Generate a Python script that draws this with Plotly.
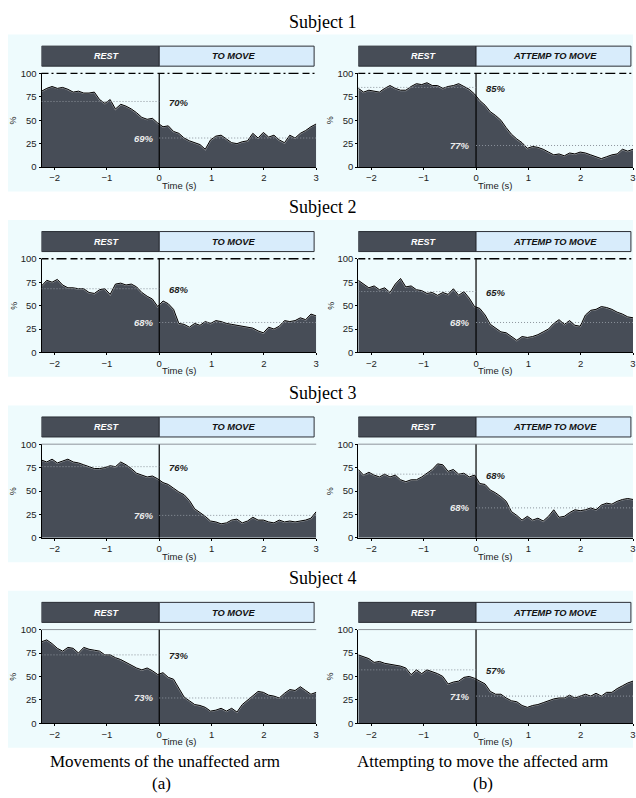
import numpy as np
import plotly.graph_objects as go

W, H = 636, 798

# ---------------------------------------------------------------------------
# Data: percentage over time (s), one series per subject and condition
# ---------------------------------------------------------------------------
time_s = np.linspace(-2.25, 3.0, 53)

s1_unaffected = [81, 84, 86, 84, 85, 83, 80, 81, 79, 79, 80, 72, 68, 72, 62, 67, 65, 62,
                 58, 53, 51, 52, 47, 43, 44, 38, 36, 31, 28, 26, 24, 19, 29, 33, 34, 30,
                 26, 25, 27, 28, 36, 31, 37, 32, 34, 29, 26, 34, 31, 36, 39, 43, 46]
s1_affected = [84, 80, 82, 81, 80, 84, 87, 84, 82, 82, 86, 89, 88, 90, 87, 87, 84, 86,
               87, 89, 86, 83, 78, 71, 66, 59, 55, 50, 42, 35, 30, 26, 20, 22, 21, 19,
               16, 13, 14, 12, 15, 14, 16, 15, 13, 11, 9, 11, 13, 14, 19, 17, 19]
s2_unaffected = [71, 77, 75, 78, 72, 69, 69, 68, 68, 64, 63, 67, 68, 62, 73, 74, 72, 73,
                 70, 64, 60, 57, 49, 55, 52, 46, 31, 30, 27, 31, 29, 33, 31, 34, 33, 31,
                 30, 29, 28, 27, 26, 23, 21, 27, 25, 28, 34, 33, 34, 37, 35, 41, 39]
s2_affected = [77, 73, 69, 71, 67, 69, 64, 73, 79, 70, 71, 67, 66, 63, 64, 61, 64, 62,
               68, 61, 65, 58, 49, 47, 40, 30, 26, 22, 21, 17, 13, 17, 16, 17, 19, 22,
               25, 31, 35, 30, 34, 29, 28, 40, 45, 46, 49, 48, 46, 43, 41, 38, 37]
s3_unaffected = [83, 81, 84, 80, 82, 84, 81, 80, 78, 76, 74, 74, 75, 77, 76, 81, 78, 74,
                 69, 67, 65, 66, 63, 59, 57, 53, 49, 46, 40, 31, 27, 23, 18, 17, 15, 16,
                 19, 20, 16, 18, 22, 19, 19, 17, 16, 19, 17, 18, 17, 18, 19, 21, 28]
s3_affected = [73, 67, 70, 67, 65, 68, 65, 67, 62, 60, 62, 62, 65, 69, 73, 79, 78, 71,
               73, 68, 69, 65, 67, 58, 57, 51, 48, 44, 39, 28, 24, 19, 23, 19, 21, 18,
               23, 30, 22, 23, 27, 30, 29, 30, 32, 30, 35, 37, 36, 39, 41, 42, 41]
s4_unaffected = [87, 89, 85, 80, 77, 81, 80, 75, 81, 79, 78, 77, 73, 73, 70, 68, 65, 62,
                 59, 57, 59, 56, 52, 54, 49, 47, 38, 28, 24, 20, 19, 17, 13, 14, 16, 13,
                 16, 12, 20, 25, 30, 34, 33, 30, 29, 27, 32, 36, 35, 39, 35, 31, 33]
s4_affected = [73, 71, 69, 65, 66, 64, 63, 62, 61, 59, 52, 57, 53, 57, 55, 53, 50, 42,
               44, 45, 49, 50, 48, 45, 42, 34, 31, 31, 27, 24, 23, 19, 17, 19, 20, 22,
               24, 26, 27, 27, 30, 27, 29, 31, 29, 32, 29, 33, 33, 37, 40, 43, 45]

series_a = [s1_unaffected, s2_unaffected, s3_unaffected, s4_unaffected]
series_b = [s1_affected, s2_affected, s3_affected, s4_affected]

# accuracy (%) during rest and during the movement window
rest_pct_a = [70, 68, 76, 73]
move_pct_a = [69, 68, 76, 73]
rest_pct_b = [85, 65, 68, 57]
move_pct_b = [77, 68, 68, 71]

subjects = ["Subject 1", "Subject 2", "Subject 3", "Subject 4"]
phase_a = ["REST", "TO MOVE"]
phase_b = ["REST", "ATTEMP TO MOVE"]
captions = ["Movements of the unaffected arm", "Attempting to move the affected arm"]
tags = ["(a)", "(b)"]
x_ticks = [-2, -1, 0, 1, 2, 3]
y_ticks = [0, 25, 50, 75, 100]

# ---------------------------------------------------------------------------
# Styling / geometry
# ---------------------------------------------------------------------------
DARK = "#474d57"
LIGHT = "#d8ecfb"
PANEL_BG = "#eefbfd"
SANS = "Liberation Sans, Arial, sans-serif"
SERIF = "Liberation Serif, Times New Roman, serif"

ROW_STEP = 188
PLOT_TOP, PLOT_BOT = 68.3, 163.3
COL_X = [(41.7, 317.7), (360.0, 636.0)]
X_RANGE = [-2.25, 3.0]


def px(x):
    return x / W


def py(y):
    return 1 - y / H


def label(text, x, y, xref="paper", yref="paper", size=9.5, color="#222",
          family=SANS, angle=0):
    return dict(text=text, x=x, y=y, xref=xref, yref=yref, showarrow=False,
                xanchor="center", yanchor="middle", textangle=angle,
                borderpad=0, font=dict(family=family, size=size, color=color))


fig = go.Figure()
layout = dict(
    width=W, height=H, autosize=False,
    margin=dict(l=0, r=0, t=0, b=0),
    paper_bgcolor="white", plot_bgcolor=LIGHT,
    showlegend=False,
)
shapes, annotations = [], []

for r in range(4):
    off = r * ROW_STEP
    # light cyan band behind both panels of the row
    shapes.append(dict(type="rect", xref="paper", yref="paper", layer="below",
                       x0=px(8), x1=1, y0=py(188 + off), y1=py(29 + off),
                       fillcolor=PANEL_BG, line=dict(width=0)))
    annotations.append(label(subjects[r], px(325), py(16 + off), size=18,
                             color="black", family=SERIF))

    for c in range(2):
        idx = r * 2 + c + 1
        xa = "x" if idx == 1 else f"x{idx}"
        ya = "y" if idx == 1 else f"y{idx}"
        vals = (series_a if c == 0 else series_b)[r]
        rest_pct = (rest_pct_a if c == 0 else rest_pct_b)[r]
        move_pct = (move_pct_a if c == 0 else move_pct_b)[r]
        phases = phase_a if c == 0 else phase_b
        x0p, x1p = COL_X[c]

        layout[f"xaxis{idx}"] = dict(
            domain=[px(x0p), px(x1p)], range=X_RANGE, anchor=ya,
            tickvals=x_ticks, showline=True, linecolor="black", linewidth=1,
            ticks="outside", ticklen=2, tickcolor="black",
            showgrid=False, zeroline=False,
            tickfont=dict(family=SANS, size=9.5, color="#222"))
        layout[f"yaxis{idx}"] = dict(
            domain=[py(PLOT_BOT + off), py(PLOT_TOP + off)], range=[0, 100],
            anchor=xa, tickvals=y_ticks, showline=True, linecolor="black",
            linewidth=1, ticks="outside", ticklen=2, tickcolor="black",
            showgrid=False, zeroline=False,
            tickfont=dict(family=SANS, size=9.5, color="#222"))

        # filled area with a light rim and a black outline
        fig.add_trace(go.Scatter(x=time_s, y=vals, xaxis=xa, yaxis=ya, mode="lines",
                                 fill="tozeroy", fillcolor=DARK,
                                 line=dict(color="rgba(255,255,255,0.45)", width=1.9),
                                 hoverinfo="skip"))
        fig.add_trace(go.Scatter(x=time_s, y=vals, xaxis=xa, yaxis=ya, mode="lines",
                                 line=dict(color="black", width=1), hoverinfo="skip"))

        # phase header
        hy0, hy1 = py(61 + off), py(40.7 + off)
        shapes.append(dict(type="rect", xref=xa, yref="paper", x0=X_RANGE[0], x1=0,
                           y0=hy0, y1=hy1, fillcolor=DARK,
                           line=dict(color="#2b2f36", width=1)))
        shapes.append(dict(type="rect", xref=xa, yref="paper", x0=0, x1=2.96,
                           y0=hy0, y1=hy1, fillcolor=LIGHT,
                           line=dict(color="#2b2f36", width=1)))
        annotations.append(label(f"<b><i>{phases[0]}</i></b>", -1.0, py(51 + off),
                                 xref=xa, size=9, color="white"))
        annotations.append(label(f"<b><i>{phases[1]}</i></b>",
                                 1.42 if c == 0 else 1.51, py(51 + off),
                                 xref=xa, size=9.3, color="#111"))

        # top border line at 100 %
        if r < 2:
            top_line = dict(color="black", width=1.3, dash="7px,3px,2px,3px,10px,4px")
        else:
            top_line = dict(color="#8d939a", width=1)
        shapes.append(dict(type="line", xref=f"{xa} domain", yref=f"{ya} domain",
                           x0=0, x1=1, y0=1, y1=1, line=top_line))

        # movement onset
        shapes.append(dict(type="line", xref=xa, yref=ya, x0=0, x1=0, y0=0, y1=100,
                           line=dict(color="black", width=1.2)))
        # accuracy reference levels
        shapes.append(dict(type="line", xref=xa, yref=ya, x0=X_RANGE[0], x1=0,
                           y0=rest_pct, y1=rest_pct,
                           line=dict(color="#8c939c", width=1, dash="1px,2px")))
        shapes.append(dict(type="line", xref=xa, yref=ya, x0=0, x1=X_RANGE[1],
                           y0=100 - move_pct, y1=100 - move_pct,
                           line=dict(color="#8c939c", width=1, dash="1px,2px")))
        annotations.append(label(f"<b><i>{rest_pct}%</i></b>", 0.38, rest_pct - 1,
                                 xref=xa, yref=ya, color="#1e1e1e"))
        annotations.append(label(f"<b><i>{move_pct}%</i></b>", -0.3, 100 - move_pct,
                                 xref=xa, yref=ya, color="#ececec"))

        # axis titles
        annotations.append(label("Time (s)", 0.37, py(181.7 + off), xref=xa))
        annotations.append(label("%", px(13.3 if c == 0 else 331.7),
                                 py((PLOT_TOP + PLOT_BOT) / 2 + off), size=9, angle=-90))

for c in range(2):
    cx = 166 if c == 0 else 485
    annotations.append(label(captions[c], px(cx), py(766), size=17, color="black",
                             family=SERIF))
    annotations.append(label(tags[c], px(cx - 4 if c == 0 else cx), py(788), size=17,
                             color="black", family=SERIF))

layout["shapes"] = shapes
layout["annotations"] = annotations
fig.update_layout(**layout)
fig.write_html("out.html")
